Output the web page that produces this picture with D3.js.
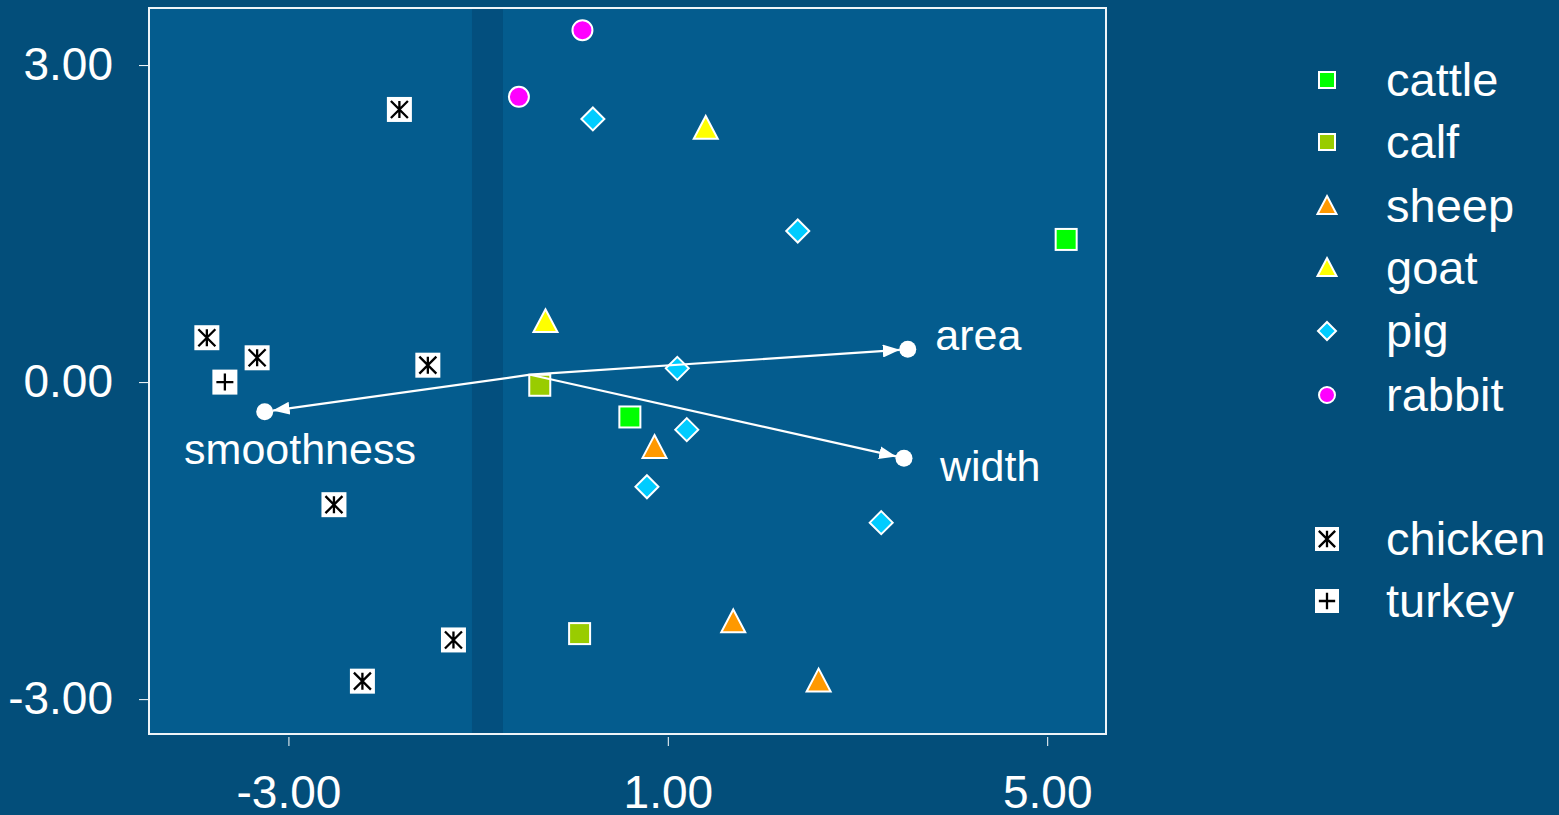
<!DOCTYPE html>
<html>
<head>
<meta charset="utf-8">
<script src="https://cdn.jsdelivr.net/npm/d3@7"></script>
<style>
  html, body { margin: 0; padding: 0; background: #034e7a; }
  svg { display: block; }
  text { font-family: "Liberation Sans", Arial, sans-serif; fill: #ffffff; }
</style>
</head>
<body>
<div class="visHolder"></div>
<script>
// scores per group (x, y)
var cattle  = [[5.20, 1.35], [0.60, -0.33]];
var calf    = [[-0.35, -0.03], [0.07, -2.38]];
var sheep   = [[0.86, -0.62], [1.69, -2.27], [2.59, -2.83]];
var goat    = [[-0.29, 0.57], [1.40, 2.40]];
var pig     = [[0.21, 2.49], [2.37, 1.43], [1.10, 0.13], [1.20, -0.45], [0.78, -0.99], [3.25, -1.33]];
var rabbit  = [[0.10, 3.33], [-0.57, 2.70]];
var chicken = [[-1.83, 2.58], [-3.86, 0.42], [-3.33, 0.23], [-1.53, 0.16], [-2.52, -1.16], [-1.26, -2.44], [-2.22, -2.83]];
var turkey  = [[-3.67, 0.00]];

// variable vectors
var vecNames = ["smoothness", "area", "width"];
var vecEnds  = [[-3.25, -0.28], [3.53, 0.31], [3.49, -0.72]];
var vecOrigin = [-0.45, 0.07];

var xTicks = [-3, 1, 5];
var yTicks = [-3, 0, 3];
var band = [-1.065, -0.738];

var groups = [
  { name: "cattle",  pts: cattle,  shape: "square",   color: "#00ff00" },
  { name: "calf",    pts: calf,    shape: "square",   color: "#99cc00" },
  { name: "sheep",   pts: sheep,   shape: "triangle", color: "#ff9900" },
  { name: "goat",    pts: goat,    shape: "triangle", color: "#ffff00" },
  { name: "pig",     pts: pig,     shape: "diamond",  color: "#00ccff" },
  { name: "rabbit",  pts: rabbit,  shape: "circle",   color: "#ff00ff" },
  { name: "chicken", pts: chicken, shape: "star",     color: "#ffffff" },
  { name: "turkey",  pts: turkey,  shape: "plus",     color: "#ffffff" }
];

var W = 1559, H = 815;
var margin = { left: 149, top: 8, right: 453, bottom: 81 };

var svg = d3.select(".visHolder").append("svg")
    .attr("width", W).attr("height", H);

svg.append("rect").attr("width", W).attr("height", H).attr("fill", "#034e7a");

var x = d3.scaleLinear().domain([-4.47, 5.62]).range([margin.left, W - margin.right]);
var y = d3.scaleLinear().domain([-3.33, 3.54]).range([H - margin.bottom, margin.top]);

// plot background
svg.append("rect")
    .attr("x", x.range()[0]).attr("y", y.range()[1])
    .attr("width", x.range()[1] - x.range()[0])
    .attr("height", y.range()[0] - y.range()[1])
    .attr("fill", "#045c8e");

svg.append("rect")
    .attr("x", x(band[0])).attr("y", y.range()[1])
    .attr("width", x(band[1]) - x(band[0]))
    .attr("height", y.range()[0] - y.range()[1])
    .attr("fill", "#034f7e");

svg.append("rect")
    .attr("x", x.range()[0]).attr("y", y.range()[1])
    .attr("width", x.range()[1] - x.range()[0])
    .attr("height", y.range()[0] - y.range()[1])
    .attr("fill", "none")
    .attr("stroke", "#eef4f8")
    .attr("stroke-width", 2);

// axes
var fmt = function(d) { return d.toFixed(2); };
var xAxis = svg.append("g")
    .attr("transform", "translate(0," + (y.range()[0] + 3) + ")")
    .call(d3.axisBottom(x).tickValues(xTicks).tickFormat(fmt).tickSize(9).tickPadding(29));
var yAxis = svg.append("g")
    .attr("transform", "translate(" + (x.range()[0] - 1) + ",0)")
    .call(d3.axisLeft(y).tickValues(yTicks).tickFormat(fmt).tickSize(9).tickPadding(26));

[xAxis, yAxis].forEach(function(a) {
  a.select(".domain").remove();
  a.selectAll(".tick line").attr("stroke", "#ffffff").attr("stroke-width", 1);
  a.selectAll(".tick text").attr("fill", "#ffffff").style("font-size", "46px")
    .style("font-family", "'Liberation Sans', Arial, sans-serif");
});

// marker drawing
function marker(g, shape, color, s) {
  if (shape === "square") {
    g.append("rect").attr("x", -s / 2).attr("y", -s / 2).attr("width", s).attr("height", s)
      .attr("fill", color).attr("stroke", "#ffffff").attr("stroke-width", 2);
  } else if (shape === "triangle") {
    var h = s * 0.95;
    g.append("path")
      .attr("d", "M0," + (-h * 0.55) + "L" + (s / 2) + "," + (h * 0.45) + "L" + (-s / 2) + "," + (h * 0.45) + "Z")
      .attr("fill", color).attr("stroke", "#ffffff").attr("stroke-width", 2);
  } else if (shape === "diamond") {
    var r = s / 2;
    g.append("path")
      .attr("d", "M0," + (-r) + "L" + r + ",0L0," + r + "L" + (-r) + ",0Z")
      .attr("fill", color).attr("stroke", "#ffffff").attr("stroke-width", 2);
  } else if (shape === "circle") {
    g.append("circle").attr("r", s / 2)
      .attr("fill", color).attr("stroke", "#ffffff").attr("stroke-width", 2);
  } else {
    g.append("rect").attr("x", -s / 2).attr("y", -s / 2).attr("width", s).attr("height", s)
      .attr("fill", "#ffffff");
    var a = s * 0.34;
    var d = shape === "star"
      ? "M0," + (-a) + "V" + a + "M" + (-a) + "," + (-a) + "L" + a + "," + a + "M" + a + "," + (-a) + "L" + (-a) + "," + a
      : "M0," + (-a) + "V" + a + "M" + (-a) + ",0H" + a;
    g.append("path").attr("d", d).attr("stroke", "#000000").attr("stroke-width", 2.3).attr("fill", "none");
  }
}

var sizes = { square: 21, triangle: 24, diamond: 23, circle: 20, star: 25, plus: 25 };

// arrowhead
svg.append("defs").append("marker")
    .attr("id", "arrow").attr("viewBox", "0 0 10 10")
    .attr("refX", 10).attr("refY", 5)
    .attr("markerWidth", 17).attr("markerHeight", 13)
    .attr("preserveAspectRatio", "none")
    .attr("markerUnits", "userSpaceOnUse")
    .attr("orient", "auto")
  .append("path").attr("d", "M0,0L10,5L0,10Z").attr("fill", "#ffffff");

// points
groups.forEach(function(gr) {
  svg.selectAll(null).data(gr.pts).enter().append("g")
    .attr("transform", function(d) { return "translate(" + x(d[0]) + "," + y(d[1]) + ")"; })
    .each(function() { marker(d3.select(this), gr.shape, gr.color, sizes[gr.shape]); });
});

vecEnds.forEach(function(e, i) {
  var x0 = x(vecOrigin[0]), y0 = y(vecOrigin[1]);
  var x1 = x(e[0]), y1 = y(e[1]);
  var len = Math.hypot(x1 - x0, y1 - y0);
  var k = (len - 8) / len;
  svg.append("line")
    .attr("x1", x0).attr("y1", y0)
    .attr("x2", x0 + (x1 - x0) * k).attr("y2", y0 + (y1 - y0) * k)
    .attr("stroke", "#ffffff").attr("stroke-width", 2.2)
    .attr("marker-end", "url(#arrow)");
  svg.append("circle").attr("cx", x1).attr("cy", y1).attr("r", 8.5).attr("fill", "#ffffff");
});

var vecLabelPos = [[-4.1, -0.63], [3.82, 0.45], [3.87, -0.79]];
vecNames.forEach(function(n, i) {
  svg.append("text")
    .attr("x", x(vecLabelPos[i][0])).attr("y", y(vecLabelPos[i][1]))
    .attr("dy", "0.35em")
    .style("font-size", "43px")
    .text(n);
});

// legend
var legendY = [80, 142, 206, 268, 331, 395, 539, 601];
var legendSizes = { square: 16, triangle: 19, diamond: 18, circle: 16, star: 24, plus: 24 };
var legend = svg.append("g");
groups.forEach(function(gr, i) {
  var row = legend.append("g").attr("transform", "translate(1327," + legendY[i] + ")");
  marker(row, gr.shape, gr.color, legendSizes[gr.shape]);
  row.append("text").attr("x", 59).attr("dy", "0.35em")
    .style("font-size", "47px").text(gr.name);
});
</script>
</body>
</html>
